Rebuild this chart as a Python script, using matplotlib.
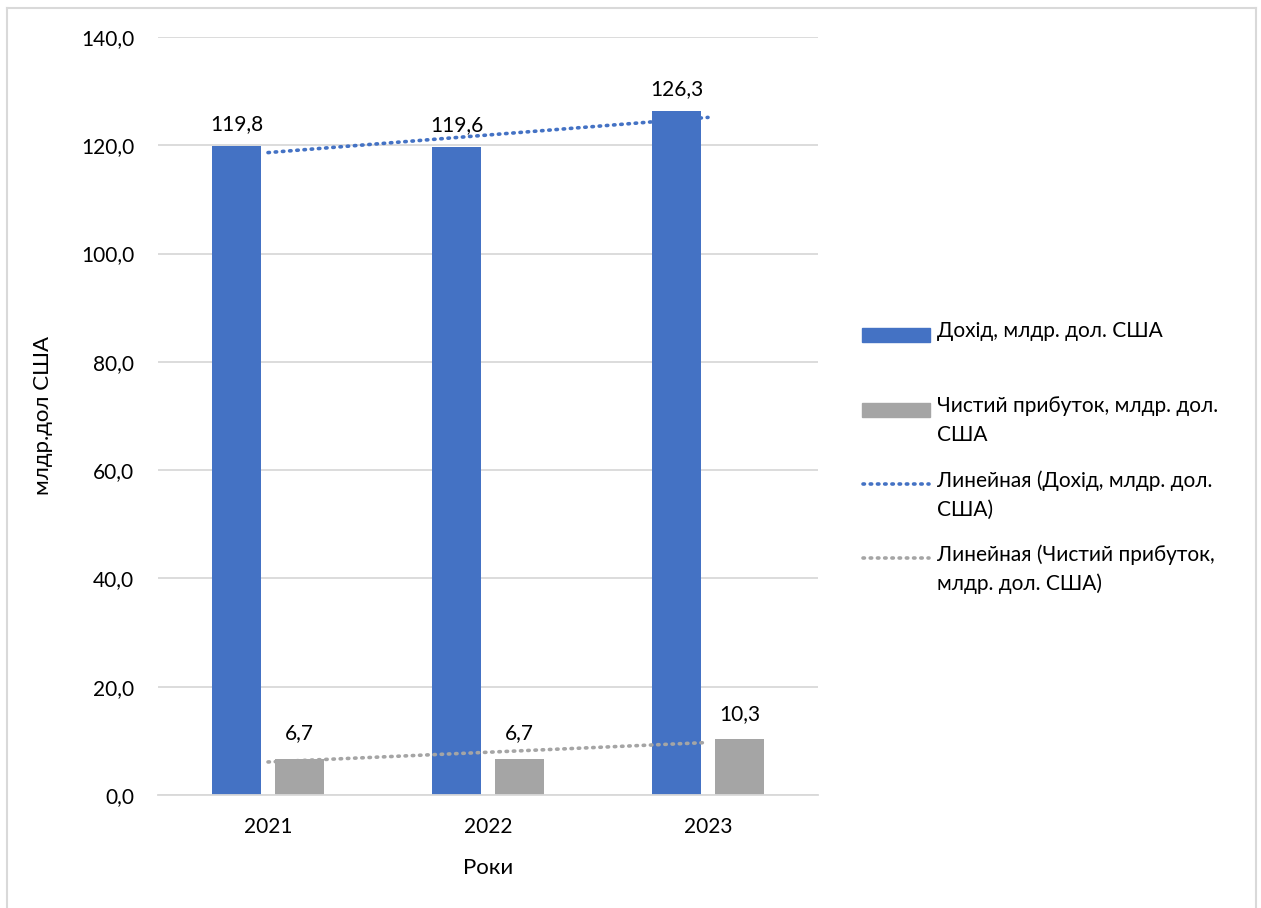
import numpy as np
import matplotlib.pyplot as plt
from matplotlib.lines import Line2D
from matplotlib.patches import Rectangle

# Data
years = ['2021', '2022', '2023']
revenue = [119.8, 119.6, 126.3]
net_profit = [6.7, 6.7, 10.3]
y_ticks = [0, 20, 40, 60, 80, 100, 120, 140]

lbl_rev = 'Дохід, млдр. дол. США'
lbl_profit = 'Чистий прибуток, млдр. дол.\nСША'
lbl_rev_trend = 'Линейная (Дохід, млдр. дол.\nСША)'
lbl_profit_trend = 'Линейная (Чистий прибуток,\nмлдр. дол. США)'

BLUE = '#4472C4'
GREY = '#A5A5A5'
GRID = '#D9D9D9'
DOTS = (0, (0.4, 1.6))

plt.rcParams['font.family'] = ['Lato', 'DejaVu Sans']
fs = 15

W, H = 1261, 908
fig = plt.figure(figsize=(W / 100, H / 100), dpi=100)
ax = fig.add_axes([158 / W, 1 - 795 / H, 660 / W, 758 / H])

x = np.arange(len(years))
w = 0.223
off = 0.143
ax.bar(x - off, revenue, w, color=BLUE, zorder=2)
ax.bar(x + off, net_profit, w, color=GREY, zorder=2)

for xi, v in zip(x, revenue):
    ax.annotate(f'{v:.1f}'.replace('.', ','), (xi - off, v), xytext=(0, 9),
                textcoords='offset points', ha='center', va='bottom', fontsize=fs)
for xi, v in zip(x, net_profit):
    ax.annotate(f'{v:.1f}'.replace('.', ','), (xi + off, v), xytext=(0, 11),
                textcoords='offset points', ha='center', va='bottom', fontsize=fs)

# linear trend lines
xt = x + 1
for vals, col in ((revenue, BLUE), (net_profit, GREY)):
    k, b = np.polyfit(xt, vals, 1)
    ax.plot(x, k * xt + b, color=col, lw=2.6, ls=DOTS,
            dash_capstyle='round', zorder=3)

ax.set_xlim(-0.5, 2.5)
ax.set_ylim(0, 140)
ax.set_yticks(y_ticks)
ax.set_yticklabels([f'{t:.1f}'.replace('.', ',') for t in y_ticks], fontsize=fs)
ax.set_xticks(x)
ax.set_xticklabels(years, fontsize=fs)
ax.tick_params(axis='y', length=0, pad=17)
ax.tick_params(axis='x', length=0, pad=16)
ax.grid(axis='y', color=GRID, lw=1.3, zorder=0)
for s in ['top', 'right', 'left']:
    ax.spines[s].set_visible(False)
ax.spines['bottom'].set_color(GRID)
ax.spines['bottom'].set_linewidth(1.3)
ax.set_axisbelow(True)

ax.set_ylabel('млдр.дол США', fontsize=fs + 1, labelpad=20)
ax.set_xlabel('Роки', fontsize=fs + 1, labelpad=15)

# legend, drawn by hand so each key sits on the first text line
def fx(px):
    return px / W

def fy(py):
    return 1 - py / H

items = [
    ('bar', BLUE, 335, lbl_rev),
    ('bar', GREY, 410, lbl_profit),
    ('line', BLUE, 484, lbl_rev_trend),
    ('line', GREY, 558, lbl_profit_trend),
]
for kind, col, yc, lbl in items:
    if kind == 'bar':
        fig.add_artist(Rectangle((fx(862), fy(yc + 7)), fx(930) - fx(862),
                                 fy(yc - 7) - fy(yc + 7), color=col))
    else:
        fig.add_artist(Line2D([fx(863), fx(929)], [fy(yc), fy(yc)], color=col,
                              lw=2.6, ls=DOTS, dash_capstyle='round'))
    fig.text(fx(937), fy(yc - 14), lbl, fontsize=fs, va='top', ha='left',
             linespacing=1.55)

# chart frame
for xs, ys in (([7, 7], [908, 8]), ([7, 1256], [8, 8]), ([1256, 1256], [8, 908])):
    fig.add_artist(Line2D([fx(v) for v in xs], [fy(v) for v in ys],
                          color=GRID, lw=1.5))

fig.savefig('out.png', dpi=100)
